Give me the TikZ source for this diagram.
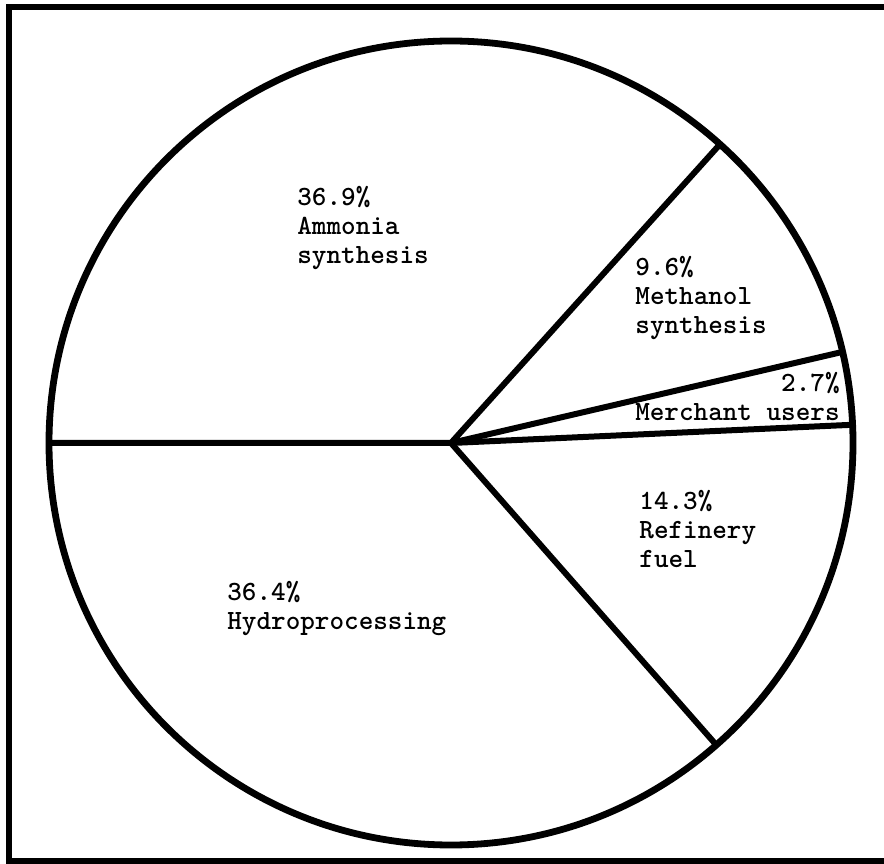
\documentclass[tikz,border=0pt]{standalone}
\usetikzlibrary{calc}
\tikzset{
  frameline/.style={line width=3pt},
  pieline/.style={line width=3.4pt},
  radline/.style={line width=3pt},
  lbl/.style={inner sep=0pt, font=\fontsize{13.9}{14.5}\selectfont\ttfamily\bfseries},
}
\begin{document}
\begin{tikzpicture}[x=0.5pt,y=0.5pt]
\useasboundingbox (0,0) rectangle (884,863);
% frame (open on the right)
\draw[frameline, line join=miter] (884,855.5) -- (8.5,855.5) -- (8.5,2.5) -- (884,2.5);
% pie
\coordinate (C) at (451,420);
\def\R{402}
\coordinate (b1) at ($(C)+(180:\R)$);
\coordinate (b2) at ($(C)+(48:\R)$);
\coordinate (b3) at ($(C)+(13.1:\R)$);
\coordinate (b4) at ($(C)+(2.6:\R)$);
\coordinate (b5) at ($(C)+(-48.7:\R)$);
\draw[pieline] (C) circle[radius=\R];
\draw[radline, line join=miter] (b1) -- (C) -- (b2);
\draw[radline] (C) -- (b3);
\draw[radline] (C) -- (b4);
\draw[radline] (C) -- (b5);
% labels (base anchor = baseline of the last line)
\node[lbl, anchor=base west, align=left] (ammonia) at (297,599) {36.9\%\\Ammonia\\synthesis};
\node[lbl, anchor=base west, align=left] (methanol) at (635,529) {9.6\%\\Methanol\\synthesis};
\node[lbl, anchor=base east, align=right] (merchant) at (840,442) {2.7\%\\Merchant users};
\node[lbl, anchor=base west, align=left] (refinery) at (639,295) {14.3\%\\Refinery\\fuel};
\node[lbl, anchor=base west, align=left] (hydro) at (227,233) {36.4\%\\Hydroprocessing};
\end{tikzpicture}
\end{document}
